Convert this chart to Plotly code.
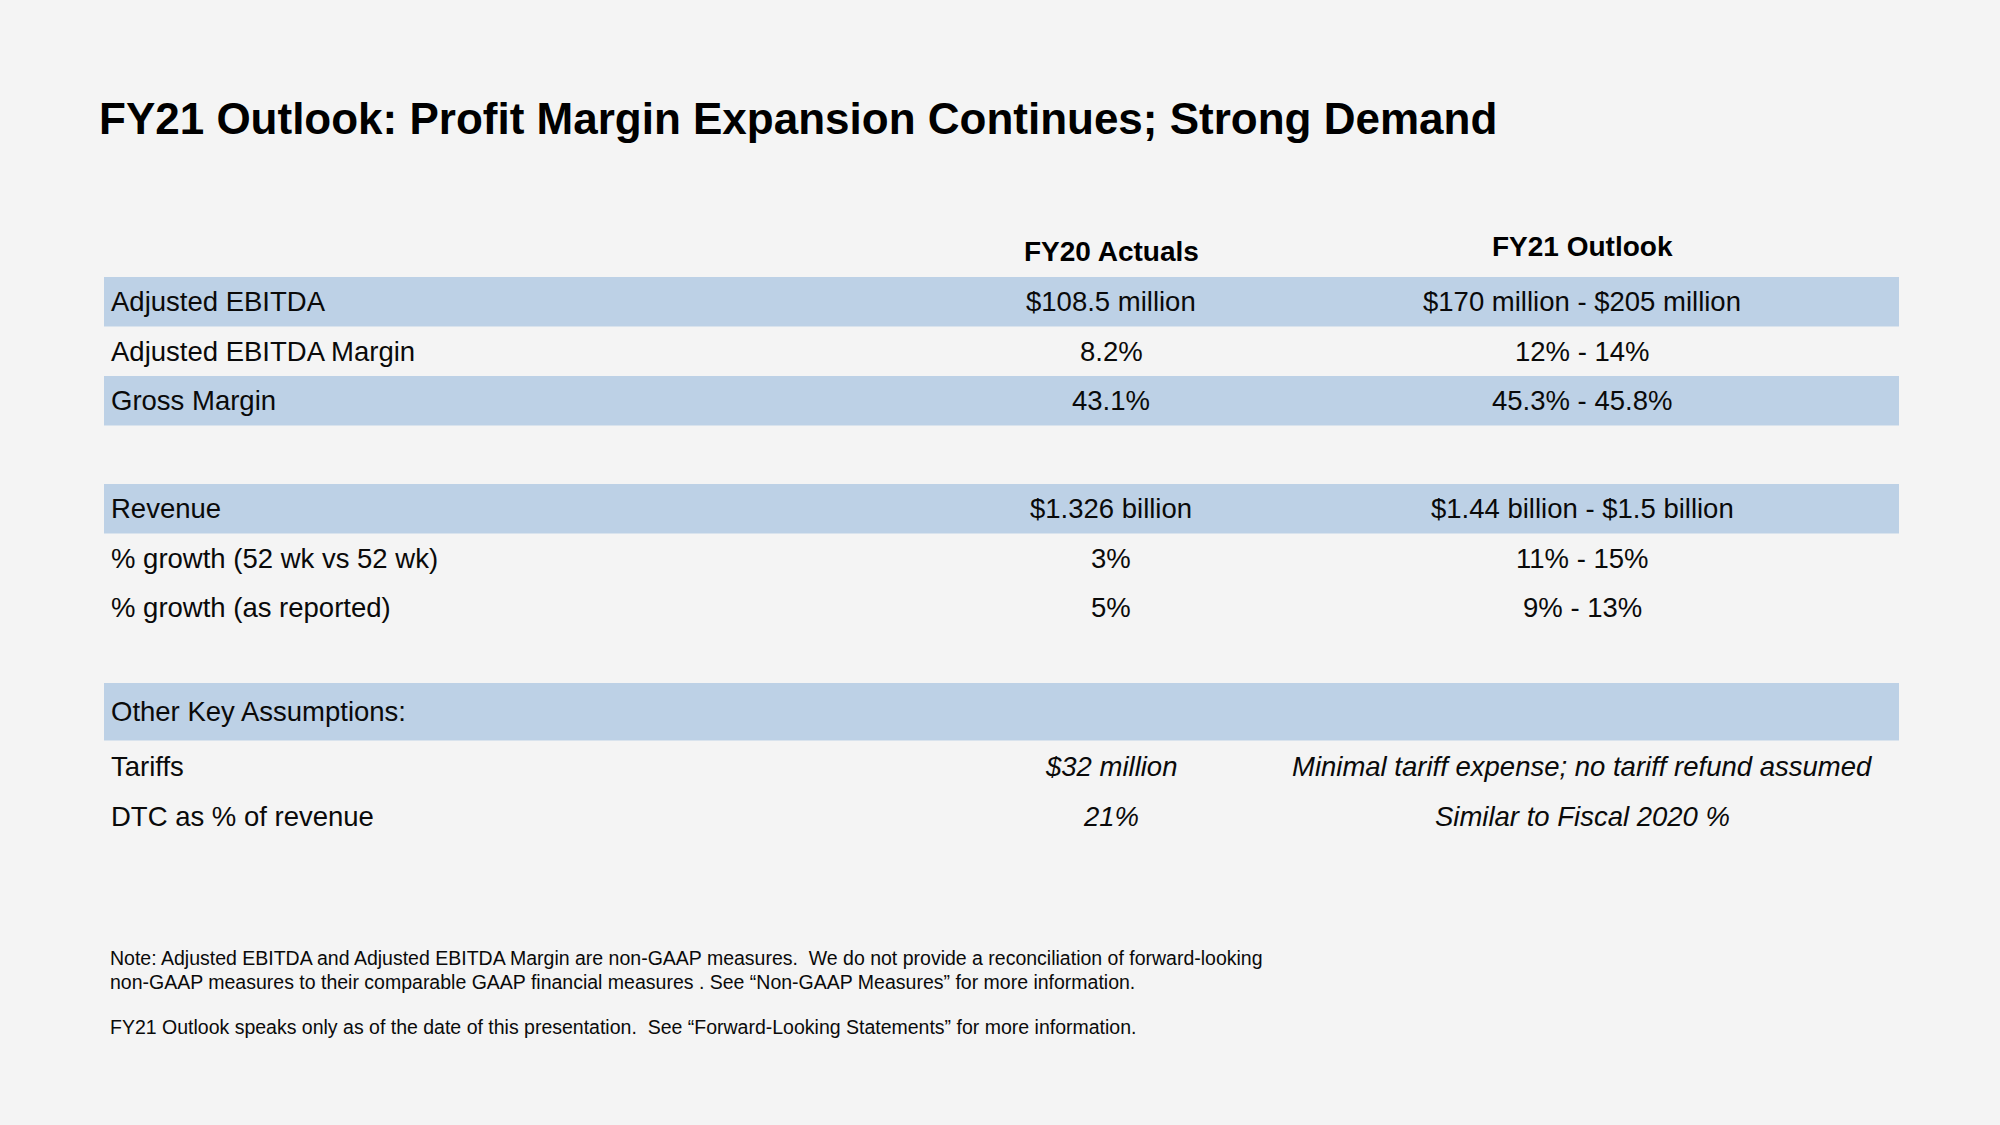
import plotly.graph_objects as go

# ---------------- data ----------------
title_text = "FY21 Outlook: Profit Margin Expansion Continues; Strong Demand"
column_headers = ["FY20 Actuals", "FY21 Outlook"]

profit_metrics = ["Adjusted EBITDA", "Adjusted EBITDA Margin", "Gross Margin"]
profit_fy20 = ["$108.5 million", "8.2%", "43.1%"]
profit_fy21 = ["$170 million - $205 million", "12% - 14%", "45.3% - 45.8%"]

revenue_metrics = ["Revenue", "% growth (52 wk vs 52 wk)", "% growth (as reported)"]
revenue_fy20 = ["$1.326 billion", "3%", "5%"]
revenue_fy21 = ["$1.44 billion - $1.5 billion", "11% - 15%", "9% - 13%"]

assumption_metrics = ["Other Key Assumptions:", "Tariffs", "DTC as % of revenue"]
assumption_fy20 = ["", "$32 million", "21%"]
assumption_fy21 = ["", "Minimal tariff expense; no tariff refund assumed", "Similar to Fiscal 2020 %"]

shaded_rows = ["Adjusted EBITDA", "Gross Margin", "Revenue", "Other Key Assumptions:"]

note_lines = [
    "Note: Adjusted EBITDA and Adjusted EBITDA Margin are non-GAAP measures.  We do not provide a reconciliation of forward-looking",
    "non-GAAP measures to their comparable GAAP financial measures . See \u201cNon-GAAP Measures\u201d for more information.",
    "FY21 Outlook speaks only as of the date of this presentation.  See \u201cForward-Looking Statements\u201d for more information.",
]

# ---------------- layout constants ----------------
W, H = 2000, 1125
BG = "#f4f4f4"
BAND = "#bdd1e6"
TXT = "#0a0a0a"
FONT = "Liberation Sans, Arial, Helvetica, sans-serif"

table_left, table_right = 104, 1899
label_x = 109
col_x = [1111, 1582]
row_h = 49.5
groups = [
    dict(top=277, first_h=49.5, metrics=profit_metrics, fy20=profit_fy20, fy21=profit_fy21, italic=False),
    dict(top=484, first_h=49.5, metrics=revenue_metrics, fy20=revenue_fy20, fy21=revenue_fy21, italic=False),
    dict(top=683, first_h=57.5, metrics=assumption_metrics, fy20=assumption_fy20, fy21=assumption_fy21, italic=True),
]
cell_size = 27.5

fig = go.Figure()
shapes = []
annotations = []

# title
annotations.append(dict(x=97, y=118, text=title_text, xanchor="left", yanchor="middle",
                        showarrow=False, font=dict(family=FONT, size=44, color="#000", weight="bold")))
# column headers
for hx, hy, htxt in zip(col_x, [251, 246], column_headers):
    annotations.append(dict(x=hx, y=hy, text=htxt, xanchor="center", yanchor="middle",
                            showarrow=False, font=dict(family=FONT, size=28, color="#000", weight="bold")))

for g in groups:
    for i, (m, a, b) in enumerate(zip(g["metrics"], g["fy20"], g["fy21"])):
        if i == 0:
            top = g["top"]
            h = g["first_h"]
        else:
            top = g["top"] + g["first_h"] + (i - 1) * row_h
            h = row_h
        cy = top + h / 2 + (1.5 if (g["italic"] and i > 0) else 0)
        if m in shaded_rows:
            shapes.append(dict(type="rect", xref="x", yref="y", x0=table_left, x1=table_right,
                               y0=top, y1=top + h, fillcolor=BAND, line=dict(width=0), layer="below"))
        annotations.append(dict(x=label_x, y=cy, text=m, xanchor="left", yanchor="middle", showarrow=False,
                                font=dict(family=FONT, size=cell_size, color=TXT)))
        for cx, val in zip(col_x, [a, b]):
            if not val:
                continue
            annotations.append(dict(x=cx, y=cy, text=val, xanchor="center", yanchor="middle", showarrow=False,
                                    font=dict(family=FONT, size=cell_size, color=TXT,
                                              style="italic" if g["italic"] else "normal")))

for ly, line in zip([958, 982, 1027], note_lines):
    annotations.append(dict(x=108, y=ly, text=line, xanchor="left", yanchor="middle", showarrow=False,
                            font=dict(family=FONT, size=19.5, color=TXT)))

fig.update_layout(
    width=W, height=H,
    margin=dict(l=0, r=0, t=0, b=0),
    paper_bgcolor=BG, plot_bgcolor=BG,
    xaxis=dict(range=[0, W], visible=False, fixedrange=True),
    yaxis=dict(range=[H, 0], visible=False, fixedrange=True),
    shapes=shapes, annotations=annotations, showlegend=False,
)
fig.write_html("out.html", config={"displayModeBar": False},
               post_script="document.body.style.margin='0';document.body.style.background='%s';" % BG)
